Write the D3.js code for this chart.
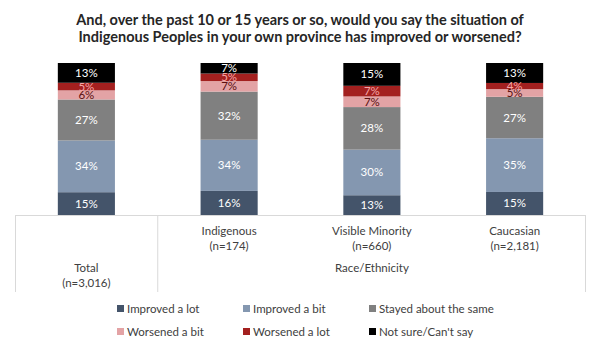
<!DOCTYPE html>
<html>
<head>
<meta charset="utf-8">
<script src="https://cdn.jsdelivr.net/npm/d3@7"></script>
<style>
  body { margin: 0; background: #fff; }
  text { font-family: Lato, "Open Sans", sans-serif; }
</style>
</head>
<body>
<svg width="601" height="350"></svg>
<script>
const groups = ['Total', 'Indigenous', 'Visible Minority', 'Caucasian']
const groupN = ['(n=3,016)', '(n=174)', '(n=660)', '(n=2,181)']
const seriesNames = ['Improved a lot', 'Improved a bit', 'Stayed about the same',
    'Worsened a bit', 'Worsened a lot', 'Not sure/Can\'t say']
const improvedLot = [15, 16, 13, 15]
const improvedBit = [34, 34, 30, 35]
const stayed = [27, 32, 28, 27]
const worsenedBit = [6, 7, 7, 5]
const worsenedLot = [5, 5, 7, 4]
const notSure = [13, 7, 15, 13]

const colors = ['#44546a', '#8497b0', '#808080', '#e3a3a5', '#a3201f', '#000000']
const labelColors = ['#fff', '#fff', '#fff', '#5a1010', '#f6a6a6', '#fff']

const seriesValues = [improvedLot, improvedBit, stayed, worsenedBit, worsenedLot, notSure]
const table = groups.map((g, i) => {
    const row = { group: g }
    seriesNames.forEach((s, k) => { row[s] = seriesValues[k][i] })
    return row
})

const svg = d3.select('svg')

svg.append('text')
    .attr('x', 300).attr('y', 25)
    .attr('text-anchor', 'middle')
    .style('font-weight', 'bold').style('font-size', '14.5px').attr('fill', '#262626')
    .text('And, over the past 10 or 15 years or so, would you say the situation of')
svg.append('text')
    .attr('x', 300).attr('y', 42)
    .attr('text-anchor', 'middle')
    .style('font-weight', 'bold').style('font-size', '14.5px').attr('fill', '#262626')
    .text('Indigenous Peoples in your own province has improved or worsened?')

const x = d3.scaleBand()
    .domain(groups)
    .range([15, 586])
    .paddingInner(0.6)
    .paddingOuter(0.3)

const y = d3.scaleLinear()
    .domain([0, 1])
    .range([215, 63])

const stacked = d3.stack()
    .keys(seriesNames)
    .offset(d3.stackOffsetExpand)(table)

const layers = svg.selectAll('g.layer')
    .data(stacked)
    .join('g')
    .attr('class', 'layer')
    .attr('fill', (d, i) => colors[i])

layers.selectAll('rect')
    .data(d => d)
    .join('rect')
    .attr('x', d => x(d.data.group))
    .attr('width', x.bandwidth())
    .attr('y', d => y(d[1]))
    .attr('height', d => y(d[0]) - y(d[1]))

stacked.forEach((layer, k) => {
    svg.append('g').selectAll('text')
        .data(layer)
        .join('text')
        .attr('x', d => x(d.data.group) + x.bandwidth() / 2)
        .attr('y', d => (y(d[0]) + y(d[1])) / 2 + 4)
        .attr('text-anchor', 'middle')
        .style('font-size', '11.5px')
        .attr('fill', labelColors[k])
        .text(d => d.data[layer.key] + '%')
})

// category axis box
const axisColor = '#d9d9d9'
const xStep = x.step()
const divider = x('Indigenous') - (xStep - x.bandwidth()) / 2
svg.append('line').attr('x1', 15).attr('x2', 586).attr('y1', 215.5).attr('y2', 215.5)
    .attr('stroke', axisColor)
svg.append('line').attr('x1', 15.5).attr('x2', 15.5).attr('y1', 215).attr('y2', 292)
    .attr('stroke', axisColor)
svg.append('line').attr('x1', divider).attr('x2', divider).attr('y1', 215).attr('y2', 292)
    .attr('stroke', axisColor)
svg.append('line').attr('x1', 585.5).attr('x2', 585.5).attr('y1', 215).attr('y2', 292)
    .attr('stroke', axisColor)

const labelColor = '#404040'
groups.forEach((g, i) => {
    const cx = x(g) + x.bandwidth() / 2
    const top = i === 0 ? 272 : 235
    svg.append('text').attr('x', cx).attr('y', top)
        .attr('text-anchor', 'middle').style('font-size', '11.5px').attr('fill', labelColor)
        .text(g)
    svg.append('text').attr('x', cx).attr('y', top + 15)
        .attr('text-anchor', 'middle').style('font-size', '11.5px').attr('fill', labelColor)
        .text(groupN[i])
})
svg.append('text').attr('x', (divider + 586) / 2).attr('y', 272)
    .attr('text-anchor', 'middle').style('font-size', '11.5px').attr('fill', labelColor)
    .text('Race/Ethnicity')

// legend
const legendX = [117, 243, 369]
const legendY = [309, 332]
seriesNames.forEach((s, i) => {
    const lx = legendX[i % 3]
    const ly = legendY[Math.floor(i / 3)]
    svg.append('rect').attr('x', lx).attr('y', ly - 4).attr('width', 7).attr('height', 7)
        .attr('fill', colors[i])
    svg.append('text').attr('x', lx + 10).attr('y', ly + 4)
        .style('font-size', '11.5px').attr('fill', labelColor)
        .text(s)
})
</script>
</body>
</html>
